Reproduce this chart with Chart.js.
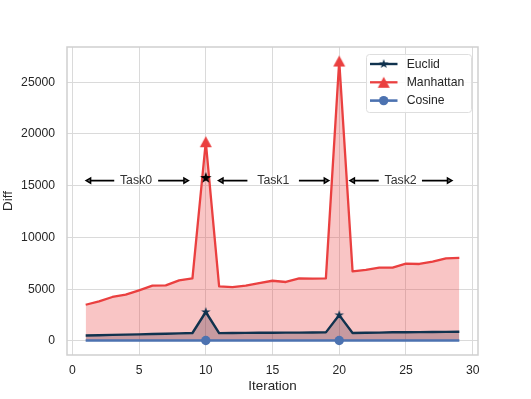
<!DOCTYPE html>
<html>
<head>
<meta charset="utf-8">
<script src="https://cdn.jsdelivr.net/npm/chart.js@4/dist/chart.umd.min.js"></script>
<style>
html,body{margin:0;padding:0;background:#fff;}
#wrap{width:531px;height:399px;position:relative;}
</style>
</head>
<body>
<div id="wrap"><canvas id="c" width="531" height="399"></canvas></div>
<script>
// ---- data ----
const iterations = [1,2,3,4,5,6,7,8,9,10,11,12,13,14,15,16,17,18,19,20,21,22,23,24,25,26,27,28,29];
const euclid    = [530,560,590,610,640,670,700,735,770,2800,760,770,780,790,800,805,810,820,830,2500,770,790,810,840,850,860,865,880,890];
const manhattan = [3500,3820,4250,4470,4890,5340,5370,5860,6050,19250,5280,5210,5340,5600,5820,5700,6050,6020,6050,27050,6730,6860,7080,7080,7470,7440,7670,7990,8020];
const cosine    = [40,42,41,43,42,44,43,45,44,46,45,44,46,45,47,46,45,47,46,48,47,46,48,47,48,49,48,49,50];
const markerIterations = [10, 20];
const starNoteX = [10];
const starNoteY = [15750];
const xTicks = [0,5,10,15,20,25,30];
const yTicks = [0,5000,10000,15000,20000,25000];
const taskLabels = ['Task0','Task1','Task2'];
const taskStart = [1.03, 10.95, 20.8];
const taskEnd = [8.7, 19.22, 28.45];
const taskTextX = [4.77, 15.06, 24.6];
const taskGapStart = [3.14, 13.12, 22.96];
const taskGapEnd = [6.43, 16.98, 26.2];
const taskY = 15500;
const seriesLabels = ['Euclid','Manhattan','Cosine'];

// ---- styles ----
const FONT = "'Liberation Sans', Arial, sans-serif";
const TXT = '#262626';
const NAVY = 'rgb(16,50,78)';
const RED = 'rgb(234,64,64)';
const BLUE = '#4c72b0';

function makeStar(r, color) {
  const s = Math.ceil(r * 2) + 2;
  const c = document.createElement('canvas');
  c.width = s; c.height = s;
  const g = c.getContext('2d');
  g.fillStyle = color;
  g.beginPath();
  for (let k = 0; k < 10; k++) {
    const rr = (k % 2) ? r * 0.4 : r;
    const a = -Math.PI / 2 + k * Math.PI / 5;
    const px = s / 2 + rr * Math.cos(a), py = s / 2 + rr * Math.sin(a);
    if (k) g.lineTo(px, py); else g.moveTo(px, py);
  }
  g.closePath(); g.fill();
  return c;
}
function makeTriangle(w, h, color) {
  const cw = Math.ceil(w) + 2, ch = Math.ceil(h) + 2;
  const c = document.createElement('canvas');
  c.width = cw; c.height = ch;
  const g = c.getContext('2d');
  g.fillStyle = color;
  g.beginPath();
  g.moveTo(cw / 2, ch / 2 - h / 2);
  g.lineTo(cw / 2 - w / 2, ch / 2 + h / 2);
  g.lineTo(cw / 2 + w / 2, ch / 2 + h / 2);
  g.closePath(); g.fill();
  return c;
}
const navyStar = makeStar(5, NAVY);
const blackStar = makeStar(6, '#000');
const redTri = makeTriangle(12, 11, RED);

const isMarker = (ctx) => markerIterations.includes(iterations[ctx.dataIndex]);
const pts = (arr) => iterations.map((x, i) => ({x: x, y: arr[i]}));

const frameAndLegend = {
  id: 'frameAndLegend',
  beforeDatasetsDraw(chart) {
    const {ctx, chartArea: a} = chart;
    ctx.save();
    ctx.strokeStyle = '#cfcfcf';
    ctx.lineWidth = 1.5;
    ctx.strokeRect(a.left, a.top, a.right - a.left, a.bottom - a.top);
    ctx.restore();
  },
  afterDatasetsDraw(chart) {
    const {ctx} = chart;
    const xs = chart.scales.x, ys = chart.scales.y;
    // task annotations
    ctx.save();
    const py = ys.getPixelForValue(taskY);
    ctx.font = '12.3px ' + FONT;
    ctx.textAlign = 'center';
    ctx.textBaseline = 'middle';
    for (let i = 0; i < taskLabels.length; i++) {
      const x0 = xs.getPixelForValue(taskStart[i]);
      const x1 = xs.getPixelForValue(taskGapStart[i]);
      const x2 = xs.getPixelForValue(taskGapEnd[i]);
      const x3 = xs.getPixelForValue(taskEnd[i]);
      ctx.strokeStyle = '#000';
      ctx.lineWidth = 1.8;
      ctx.beginPath();
      ctx.moveTo(x0 + 3, py); ctx.lineTo(x1, py);
      ctx.moveTo(x2, py); ctx.lineTo(x3 - 3, py);
      ctx.stroke();
      // heads
      ctx.lineWidth = 1.5;
      ctx.lineJoin = 'miter';
      ctx.fillStyle = '#666';
      ctx.beginPath();
      ctx.moveTo(x0, py); ctx.lineTo(x0 + 4.5, py - 2.6); ctx.lineTo(x0 + 4.5, py + 2.6); ctx.closePath();
      ctx.fill(); ctx.stroke();
      ctx.beginPath();
      ctx.moveTo(x3, py); ctx.lineTo(x3 - 4.5, py - 2.6); ctx.lineTo(x3 - 4.5, py + 2.6); ctx.closePath();
      ctx.fill(); ctx.stroke();
      ctx.fillStyle = '#333';
      ctx.fillText(taskLabels[i], xs.getPixelForValue(taskTextX[i]), py);
    }
    ctx.restore();

    // legend
    ctx.save();
    const bx = 366, by = 54, bw = 105, bh = 58;
    ctx.beginPath();
    ctx.roundRect(bx + 0.5, by + 0.5, bw, bh, 3);
    ctx.fillStyle = 'rgba(255,255,255,0.85)';
    ctx.fill();
    ctx.strokeStyle = '#dedede';
    ctx.lineWidth = 1;
    ctx.stroke();
    ctx.font = '12.2px ' + FONT;
    ctx.textAlign = 'left';
    ctx.textBaseline = 'middle';
    seriesLabels.forEach((lab, k) => {
      const ds = chart.data.datasets.find(d => d.label === lab);
      const ly = 64 + k * 18.3;
      ctx.strokeStyle = ds.borderColor;
      ctx.lineWidth = ds.borderWidth;
      ctx.beginPath(); ctx.moveTo(370, ly); ctx.lineTo(397.5, ly); ctx.stroke();
      const mx = 383.7;
      if (lab === 'Euclid') ctx.drawImage(navyStar, mx - navyStar.width / 2, ly - navyStar.height / 2);
      else if (lab === 'Manhattan') ctx.drawImage(redTri, mx - redTri.width / 2, ly - redTri.height / 2);
      else { ctx.fillStyle = BLUE; ctx.beginPath(); ctx.arc(mx, ly, 4.7, 0, Math.PI * 2); ctx.fill(); }
      ctx.fillStyle = TXT;
      ctx.fillText(lab, 406.7, ly + 0.5);
    });
    ctx.restore();
  }
};

new Chart(document.getElementById('c'), {
  type: 'line',
  data: {
    datasets: [
      {
        label: 'Euclid', data: pts(euclid), order: 2,
        borderColor: NAVY, borderWidth: 2.4, backgroundColor: 'rgba(16,50,78,0.3)',
        fill: 'origin', tension: 0, borderJoinStyle: 'round',
        pointRadius: (c) => isMarker(c) ? 5 : 0, pointStyle: navyStar,
        pointBackgroundColor: NAVY, pointBorderWidth: 0
      },
      {
        label: 'Manhattan', data: pts(manhattan), order: 1,
        borderColor: RED, borderWidth: 2.3, backgroundColor: 'rgba(234,64,64,0.3)',
        fill: 'origin', tension: 0, borderJoinStyle: 'round',
        pointRadius: (c) => isMarker(c) ? 6 : 0, pointStyle: redTri,
        pointBackgroundColor: RED, pointBorderWidth: 0
      },
      {
        label: 'Cosine', data: pts(cosine), order: 0,
        borderColor: BLUE, borderWidth: 2.6, backgroundColor: 'rgba(76,114,176,0.3)',
        fill: false, tension: 0,
        pointRadius: (c) => isMarker(c) ? 4.7 : 0, pointStyle: 'circle',
        pointBackgroundColor: BLUE, pointBorderWidth: 0
      },
      {
        label: 'note', type: 'scatter', order: -1,
        data: starNoteX.map((x, i) => ({x: x, y: starNoteY[i]})),
        pointStyle: blackStar, pointRadius: 6, showLine: false
      }
    ]
  },
  options: {
    responsive: false,
    animation: false,
    devicePixelRatio: 1,
    events: [],
    layout: {padding: {left: 0, right: 53, top: 47, bottom: 0}},
    plugins: {
      legend: {display: false},
      tooltip: {enabled: false},
      filler: {drawTime: 'beforeDatasetsDraw'}
    },
    scales: {
      x: {
        type: 'linear', min: -0.4, max: 30.4,
        afterBuildTicks: (s) => { s.ticks = xTicks.map(v => ({value: v})); },
        afterFit: (s) => { s.height = 44; },
        grid: {color: '#dadada', lineWidth: 1, drawTicks: false},
        border: {display: false},
        ticks: {padding: 8.5, color: TXT, font: {family: FONT, size: 12.2}, callback: (v) => String(v), maxRotation: 0},
        title: {display: true, text: 'Iteration', color: TXT, font: {family: FONT, size: 13.4}, padding: {top: 0, bottom: 5}}
      },
      y: {
        type: 'linear', min: -1355, max: 28405,
        afterBuildTicks: (s) => { s.ticks = yTicks.map(v => ({value: v})); },
        afterFit: (s) => { s.width = 67; },
        grid: {color: '#dadada', lineWidth: 1, drawTicks: false},
        border: {display: false},
        ticks: {padding: 12, color: TXT, font: {family: FONT, size: 12.2}, callback: (v) => String(v)},
        title: {display: true, text: 'Diff', color: TXT, font: {family: FONT, size: 13.4}, padding: {top: 0, bottom: 0}}
      }
    }
  },
  plugins: [frameAndLegend]
});
</script>
</body>
</html>
